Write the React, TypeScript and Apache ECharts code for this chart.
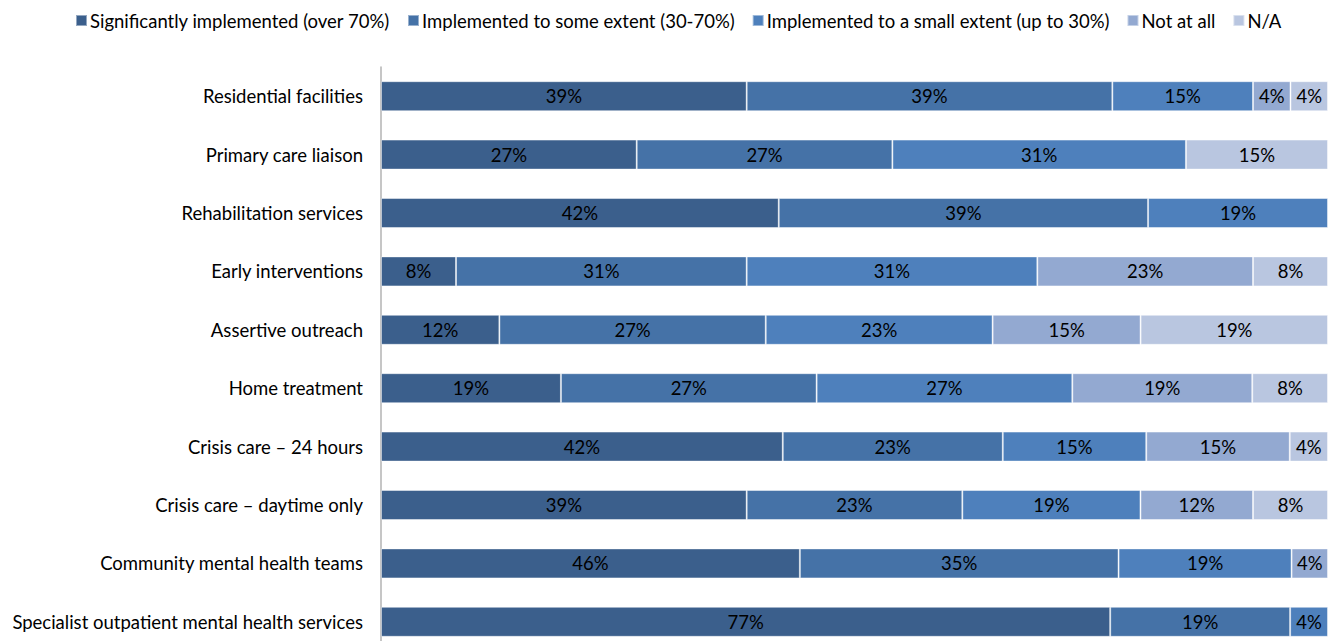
import React, { useEffect, useRef } from "react";
import * as echarts from "echarts";

const categories = [
  "Residential facilities",
  "Primary care liaison",
  "Rehabilitation services",
  "Early interventions",
  "Assertive outreach",
  "Home treatment",
  "Crisis care – 24 hours",
  "Crisis care – daytime only",
  "Community mental health teams",
  "Specialist outpatient mental health services",
];

const seriesNames = [
  "Significantly implemented (over 70%)",
  "Implemented to some extent (30-70%)",
  "Implemented to a small extent (up to 30%)",
  "Not at all",
  "N/A",
];

const significant = [39, 27, 42, 8, 12, 19, 42, 39, 46, 77];
const someExtent = [39, 27, 39, 31, 27, 27, 23, 23, 35, 19];
const smallExtent = [15, 31, 19, 31, 23, 27, 15, 19, 19, 4];
const notAtAll = [4, 0, 0, 23, 15, 19, 15, 12, 4, 0];
const notApplicable = [4, 15, 0, 8, 19, 8, 4, 8, 0, 0];

const colors = ["#3B5F8C", "#4572A7", "#4E80BC", "#93A9D1", "#B9C6E0"];

const FONT = "Lato";
const FS = 18.5;

export default function App() {
  const ref = useRef<HTMLDivElement>(null);
  useEffect(() => {
    document.body.style.margin = "0";
    document.body.style.overflow = "hidden";
    document.documentElement.style.overflow = "hidden";
    if (!ref.current) return;
    const chart = echarts.init(ref.current, undefined, { renderer: "svg" });
    const all = [significant, someExtent, smallExtent, notAtAll, notApplicable];
    const totals = categories.map((_, i) => all.reduce((s, arr) => s + arr[i], 0));
    chart.setOption({
      animation: false,
      textStyle: { fontFamily: FONT },
      legend: {
        top: 6,
        left: 70,
        itemWidth: 11,
        itemHeight: 11,
        itemGap: 17,
        icon: "rect",
        textStyle: { fontFamily: FONT, fontSize: FS, color: "#000", padding: [0, 0, 0, -2] },
        data: seriesNames,
      },
      grid: { left: 381, right: 8, top: 67, bottom: 0, containLabel: false },
      xAxis: { type: "value", min: 0, max: 100, show: false },
      yAxis: {
        type: "category",
        inverse: true,
        data: categories,
        axisLine: { show: true, lineStyle: { color: "#B3B3B3", width: 1.5 } },
        axisTick: { show: false },
        axisLabel: { fontFamily: FONT, fontSize: FS, color: "#000", margin: 18 },
      },
      series: all.map((arr, si) => ({
        name: seriesNames[si],
        type: "bar",
        stack: "total",
        barWidth: 30,
        itemStyle: { color: colors[si], borderColor: "rgba(255,255,255,0.45)", borderWidth: 1 },
        label: {
          show: true,
          position: "inside",
          fontFamily: FONT,
          fontSize: FS,
          color: "#000",
          formatter: (p: any) => `${arr[p.dataIndex]}%`,
        },
        data: arr.map((v, i) => (v ? (v / totals[i]) * 100 : null)),
      })),
    });
    return () => chart.dispose();
  }, []);
  return <div ref={ref} style={{ width: 1336, height: 651 }} />;
}
